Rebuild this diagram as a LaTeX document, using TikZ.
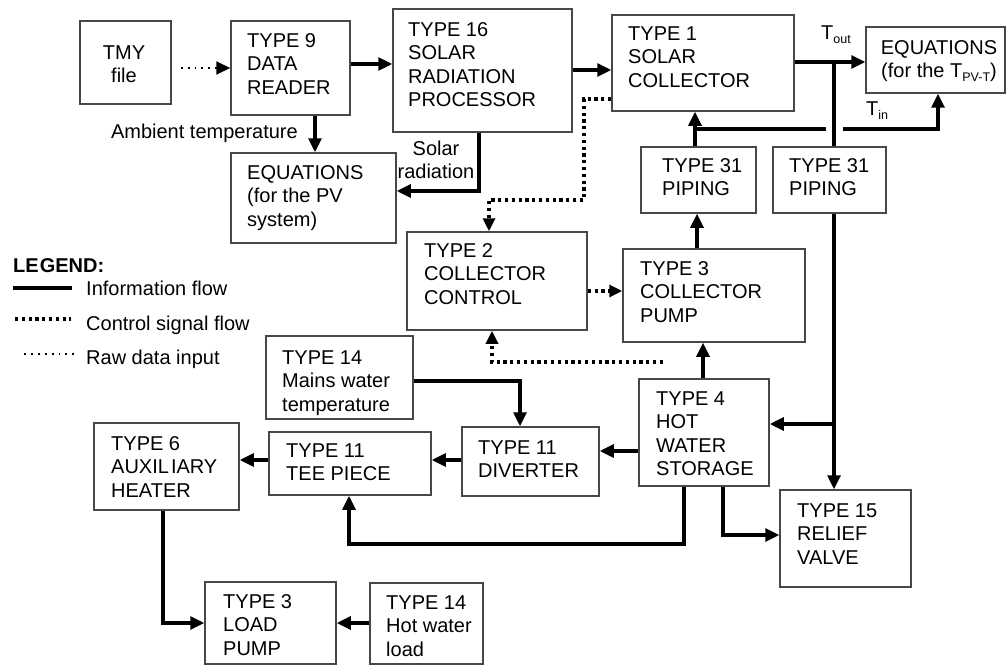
\documentclass[tikz,border=0pt]{standalone}
\usepackage{fontspec}
\setmainfont{Liberation Sans}
\usetikzlibrary{arrows.meta,fit}
\newcommand{\mainfs}{\fontsize{20}{23.5}\selectfont}
\newcommand{\subfs}{\fontsize{12.5}{14}\selectfont}
\newcommand{\tfl}{\rule{0pt}{15pt}}
\tikzset{
  box/.style={draw=black!72, line width=1.5pt, inner sep=0pt},
  txt/.style={anchor=north west, inner sep=0pt, align=left, font=\mainfs},
  lbl/.style={inner sep=0pt, font=\mainfs},
  pipe/.style={line width=3.2pt},
  flow/.style={pipe, -{Triangle[length=14pt,width=13pt]}},
  ctrl/.style={line width=3.2pt, dash pattern=on 3.2pt off 3.6pt, -{Triangle[length=13pt,width=12pt]}},
  raw/.style={line width=1.9pt, dash pattern=on 1.9pt off 5pt, -{Triangle[length=14pt,width=13pt]}},
}
\begin{document}
\begin{tikzpicture}[x=1pt,y=-1pt]
\useasboundingbox (0,0) rectangle (1008,666);
\fill[white] (0,0) rectangle (1008,666);
% boxes
\node[box, fit={(80,21)(171,104)}] (tmy) {};
\node[box, fit={(231,21)(350,115)}] (t9) {};
\node[box, fit={(393,9)(572,132)}] (t16) {};
\node[box, fit={(612,15)(794,111)}] (t1) {};
\node[box, fit={(866,27)(1005,93)}] (eqt) {};
\node[box, fit={(231,153)(396,243)}] (eqpv) {};
\node[box, fit={(641,147)(756,213)}] (p31a) {};
\node[box, fit={(773,147)(886,213)}] (p31b) {};
\node[box, fit={(407,232)(587,330)}] (t2) {};
\node[box, fit={(623,249)(805,342)}] (t3c) {};
\node[box, fit={(266,336)(413,419)}] (t14m) {};
\node[box, fit={(639,379)(769,486)}] (t4) {};
\node[box, fit={(462,427)(599,496)}] (t11d) {};
\node[box, fit={(269,432)(431,495)}] (t11t) {};
\node[box, fit={(94,423)(239,510)}] (t6) {};
\node[box, fit={(780,490)(911,587)}] (t15) {};
\node[box, fit={(205,582)(336,664)}] (t3l) {};
\node[box, fit={(370,583)(483,664)}] (t14h) {};
% texts
\node[txt, anchor=north, align=center] (tmyx) at (124,44) {\tfl TMY\\file};
\node[txt] (t9x) at (247,32) {\tfl TYPE 9\\DATA\\READER};
\node[txt] (t16x) at (408,21) {\tfl TYPE 16\\SOLAR\\RADIATION\\PROCESSOR};
\node[txt] (t1x) at (628,25) {\tfl TYPE 1\\SOLAR\\COLLECTOR};
\node[txt, anchor=north, align=center] (eqtx) at (939,39) {\tfl EQUATIONS\\(for the T\raisebox{-4pt}{\subfs PV-T})};
\node[txt] (eqpvx) at (247,164) {\tfl EQUATIONS\\(for the PV\\system)};
\node[txt] (p31ax) at (662,157) {\tfl TYPE 31\\PIPING};
\node[txt] (p31bx) at (789,157) {\tfl TYPE 31\\PIPING};
\node[txt] (t2x) at (424,242) {\tfl TYPE 2\\COLLECTOR\\CONTROL};
\node[txt] (t3cx) at (640,260) {\tfl TYPE 3\\COLLECTOR\\PUMP};
\node[txt] (t14mx) at (282,349) {\tfl TYPE 14\\Mains water\\temperature};
\node[txt] (t4x) at (656,390) {\tfl TYPE 4\\HOT\\WATER\\STORAGE};
\node[txt] (t11dx) at (478,439) {\tfl TYPE 11\\DIVERTER};
\node[txt] (t11tx) at (286,442) {\tfl TYPE 11\\TEE PIECE};
\node[txt] (t6x) at (111,435) {\tfl TYPE 6\\AUXIL\kern2pt IARY\\HEATER};
\node[txt] (t15x) at (797,502) {\tfl TYPE 15\\RELIEF\\VALVE};
\node[txt] (t3lx) at (223,593) {\tfl TYPE 3\\LOAD\\PUMP};
\node[txt] (t14hx) at (386,594) {\tfl TYPE 14\\Hot water\\load};
% coordinates
\coordinate (jout) at (834,62);
\coordinate (jst) at (834,424);
\coordinate (jin) at (695,129);
\coordinate (gapL) at (826,129);
\coordinate (gapR) at (843,129);
\coordinate (cs) at (663,362);
\coordinate (b1) at (349,544);
% connectors
\draw[raw, shorten <=9pt] (tmy.east |- 0,68) -- (t9.west |- 0,68);
\draw[flow] (t9.east |- 0,64) -- (t16.west |- 0,64);
\draw[flow] (t9.south -| 315,0) -- (eqpv.north -| 315,0);
\draw[flow] (t16.south -| 479,0) |- (eqpv.east |- 0,191);
\draw[flow] (t16.east |- 0,70) -- (t1.west |- 0,70);
\draw[flow] (t1.east |- 0,62) -- (eqt.west |- 0,62);
\draw[pipe] (jout) -- (p31b.north -| jout);
\draw[flow] (p31b.south -| jout) -- (t15.north -| jout);
\draw[flow] (jst) -- (t4.east |- jst);
\draw[flow] (p31a.north -| jin) -- (t1.south -| jin);
\draw[pipe] (jin) -- (gapL);
\draw[flow] (gapR) -| (eqt.south -| 938,0);
\draw[ctrl] (t1.west |- 0,99) -| (584,200) -| (t2.north -| 489,0);
\draw[ctrl] (t2.east |- 0,291) -- (t3c.west |- 0,291);
\draw[flow] (t3c.north -| 697,0) -- (p31a.south -| 697,0);
\draw[flow] (t4.north -| 703,0) -- (t3c.south -| 703,0);
\draw[ctrl] (cs) -| (t2.south -| 492,0);
\draw[flow] (t14m.east |- 0,381) -| (t11d.north -| 520,0);
\draw[flow] (t4.west |- 0,451) -- (t11d.east |- 0,451);
\draw[flow] (t11d.west |- 0,460) -- (t11t.east |- 0,460);
\draw[flow] (t11t.west |- 0,460) -- (t6.east |- 0,460);
\draw[flow] (t4.south -| 684,0) |- (b1) -- (t11t.south -| b1);
\draw[flow] (t4.south -| 723,0) |- (t15.west |- 0,535);
\draw[flow] (t6.south -| 163,0) |- (t3l.west |- 0,623);
\draw[flow] (t14h.west |- 0,623) -- (t3l.east |- 0,623);
% connector labels
\node[lbl, anchor=base east] (amb) at (298,139) {Ambient temperature};
\node[lbl, anchor=north, align=center] (solr) at (436,140) {\tfl Solar\\radiation};
\node[lbl, anchor=base west] (tout) at (821,40) {T\raisebox{-4pt}{\subfs out}};
\node[lbl, anchor=base west] (tin) at (866,115) {T\raisebox{-4pt}{\subfs in}};
% legend
\node[lbl, anchor=base west, font=\mainfs\bfseries] (leg) at (13,272) {LE\kern1pt GEND:};
\coordinate (la1) at (13,288); \coordinate (lb1) at (72,288);
\coordinate (la2) at (15,319); \coordinate (lb2) at (71,319);
\coordinate (la3) at (24,354); \coordinate (lb3) at (77,354);
\draw[pipe] (la1) -- (lb1);
\draw[line width=3.2pt, dash pattern=on 3.2pt off 3.6pt] (la2) -- (lb2);
\draw[line width=1.9pt, dash pattern=on 1.9pt off 5pt] (la3) -- (lb3);
\node[lbl, anchor=base west] (lt1) at (86,295) {Information flow};
\node[lbl, anchor=base west] (lt2) at (86,330) {Control signal flow};
\node[lbl, anchor=base west] (lt3) at (86,364) {Raw data input};
\end{tikzpicture}
\end{document}
